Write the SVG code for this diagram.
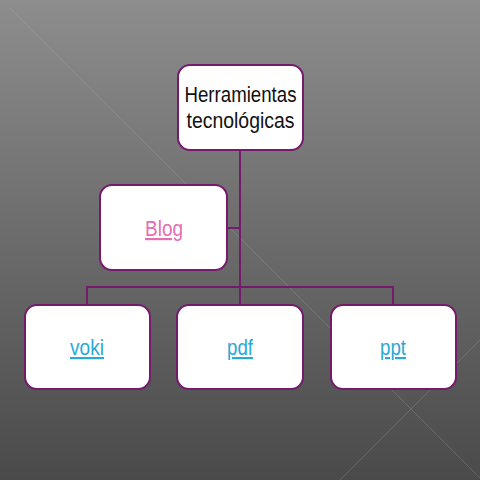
<svg xmlns="http://www.w3.org/2000/svg" width="480" height="480" viewBox="0 0 480 480">
<defs>
<linearGradient id="bg" x1="0" y1="0" x2="0" y2="1">
<stop offset="0" stop-color="#8d8d8d"/>
<stop offset="1" stop-color="#4a4a4a"/>
</linearGradient>
</defs>
<style>
.box{fill:#ffffff;stroke:#761a6c;stroke-width:2}
.conn{fill:none;stroke:#761a6c;stroke-width:2}
.t{font-family:"Liberation Sans",Arial,sans-serif;font-size:22px;text-anchor:middle}
.link{fill:#2aa9d6;text-decoration:underline}
.blog{fill:#e56db2;text-decoration:underline}
.deco{stroke:#a8a8a8;stroke-width:1;opacity:0.3}
</style>
<rect x="0" y="0" width="480" height="480" fill="url(#bg)"/>
<line class="deco" x1="10" y1="8" x2="480" y2="478"/>
<line class="deco" x1="340" y1="480" x2="480" y2="340"/>
<g id="connectors">
<path class="conn" d="M240 150 V287"/>
<path class="conn" d="M227 228 H240"/>
<path class="conn" d="M87 305 V287 H393 V305"/>
<path class="conn" d="M240 287 V305"/>
</g>
<g id="node-herramientas">
<rect class="box" x="178" y="65" width="125" height="85" rx="12"/>
<text class="t" x="240.5" y="102" fill="#111" textLength="112" lengthAdjust="spacingAndGlyphs">Herramientas</text>
<text class="t" x="240.5" y="128" fill="#111" textLength="108" lengthAdjust="spacingAndGlyphs">tecnológicas</text>
</g>
<g id="node-blog">
<rect class="box" x="100" y="185" width="127" height="85" rx="12"/>
<text class="t blog" x="164" y="236" textLength="38" lengthAdjust="spacingAndGlyphs">Blog</text>
</g>
<g id="node-voki">
<rect class="box" x="25" y="305" width="125" height="84" rx="12"/>
<text class="t link" x="87" y="355" textLength="34" lengthAdjust="spacingAndGlyphs">voki</text>
</g>
<g id="node-pdf">
<rect class="box" x="177" y="305" width="126" height="84" rx="12"/>
<text class="t link" x="240" y="355" textLength="26" lengthAdjust="spacingAndGlyphs">pdf</text>
</g>
<g id="node-ppt">
<rect class="box" x="331" y="305" width="125" height="84" rx="12"/>
<text class="t link" x="393" y="355" textLength="26" lengthAdjust="spacingAndGlyphs">ppt</text>
</g>
</svg>
